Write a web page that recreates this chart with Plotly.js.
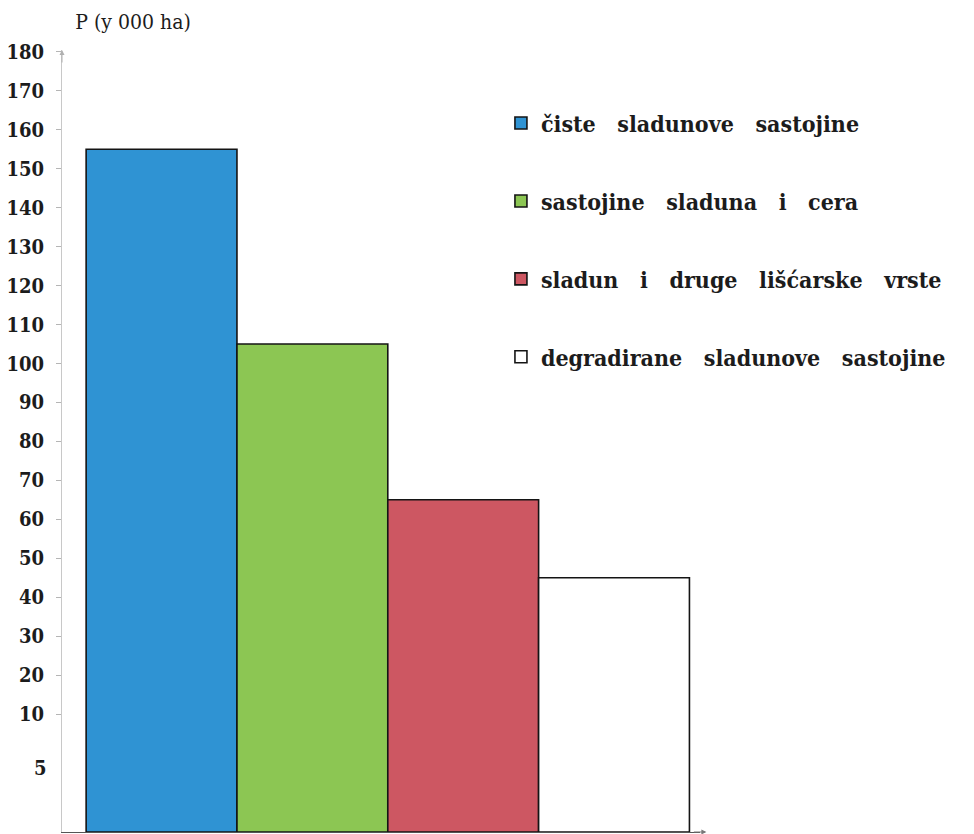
<!DOCTYPE html>
<html>
<head>
<meta charset="utf-8">
<script src="https://cdn.plot.ly/plotly-3.0.1.min.js"></script>
<style>
  html, body { margin: 0; padding: 0; background: #ffffff; }
  #chart { width: 974px; height: 834px; }
</style>
</head>
<body>
<div id="chart"></div>
<script>
// ---- data ----
const categories = [
  'čiste sladunove sastojine',
  'sastojine sladuna i cera',
  'sladun i druge lišćarske vrste',
  'degradirane sladunove sastojine'
];
const areaValues = [155, 105, 65, 45];          // P (y 000 ha)
const barColors = ['#2f93d3', '#8cc653', '#cd5762', '#ffffff'];
const tickValues = [180, 170, 160, 150, 140, 130, 120, 110, 100, 90, 80, 70, 60, 50, 40, 30, 20, 10];
const tickLabels = ['180', '170', '160', '150', '140', '130', '120', '110', '100', '90', '80', '70', '60', '50', '40', '30', '20', '10'];
const lowTickValue = 5;      // the lowest label, drawn a little below its tick as in the reference
const lowTickLabel = '5';
const yAxisTitle = 'P (y 000 ha)';

// axis extent (the bars start at the bottom of the drawn axis)
const yMin = -20.3;
const yMax = 180.5;

const serifC = '"DejaVu Serif Condensed", "DejaVu Serif", serif';
const serif = '"DejaVu Serif", serif';
const gap = '\u00A0\u00A0\u00A0';

const traces = categories.map((name, i) => ({
  type: 'bar',
  name: name.split(' ').join(gap),
  x: [name],
  y: [areaValues[i] - yMin],
  base: [yMin],
  legendgroup: 'g' + i,
  marker: { color: barColors[i], line: { color: '#141414', width: 1.6 } },
  hovertemplate: name + ': ' + areaValues[i] + '<extra></extra>'
}));

const layout = {
  width: 974,
  height: 834,
  paper_bgcolor: '#ffffff',
  plot_bgcolor: '#ffffff',
  margin: { l: 62, r: 274, t: 50, b: 2, pad: 0, autoexpand: false },
  barmode: 'overlay',
  bargap: 0,
  showlegend: true,
  font: { family: serif },
  title: {
    text: yAxisTitle,
    font: { family: serifC, size: 21, color: '#1c1c1c' },
    x: 0.1366, xanchor: 'center', xref: 'container',
    y: 0.9736, yanchor: 'middle', yref: 'container'
  },
  xaxis: {
    type: 'category',
    range: [-0.66, 3.57],
    showline: true, linecolor: '#555555', linewidth: 1.2,
    showticklabels: false, ticks: '',
    showgrid: false, zeroline: false, fixedrange: true
  },
  yaxis: {
    range: [yMin, yMax],
    tickmode: 'array',
    tickvals: tickValues,
    ticktext: tickLabels,
    ticks: 'outside', ticklen: 5, tickcolor: '#b5b5b5', tickwidth: 1,
    ticklabelstandoff: 8,
    tickfont: { family: serifC, size: 20, color: '#1c1c1c', weight: 'bold' },
    showline: true, linecolor: '#c8c8c8', linewidth: 1,
    showgrid: false, zeroline: false, fixedrange: true
  },
  legend: {
    x: 0.688, xanchor: 'left',
    y: 0.934, yanchor: 'top',
    traceorder: 'grouped',
    tracegroupgap: 45,
    bgcolor: 'rgba(0,0,0,0)',
    font: { family: serifC, size: 23, color: '#1c1c1c', weight: 'bold' }
  },
  annotations: [
    { xref: 'paper', yref: 'y', x: 0, y: lowTickValue, xanchor: 'right', yanchor: 'middle',
      xshift: -13, yshift: -35, text: lowTickLabel, showarrow: false,
      font: { family: serifC, size: 20, color: '#1c1c1c', weight: 'bold' } },
    { xref: 'paper', yref: 'paper', x: 0, y: 1.0, ax: 0, ay: 14, text: '',
      showarrow: true, arrowhead: 2, arrowsize: 1, arrowwidth: 1, arrowcolor: '#b0b0b0' },
    { xref: 'paper', yref: 'paper', x: 1.01, y: 0, ax: -14, ay: 0, text: '',
      showarrow: true, arrowhead: 2, arrowsize: 1, arrowwidth: 1, arrowcolor: '#777777' }
  ]
};

Plotly.newPlot('chart', traces, layout, { displayModeBar: false, staticPlot: true });
</script>
</body>
</html>
